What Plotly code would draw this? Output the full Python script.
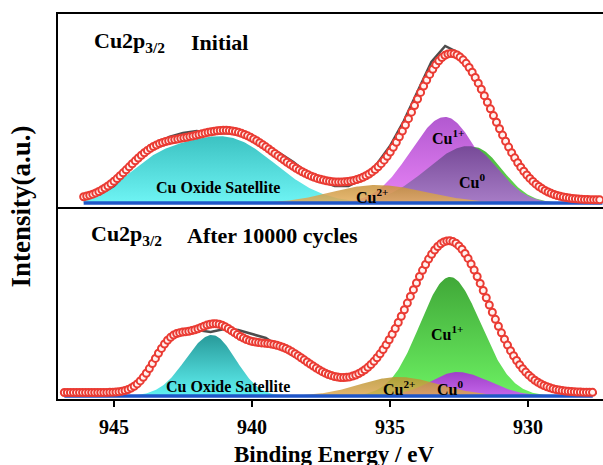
import numpy as np
import plotly.graph_objects as go

# ---------------- data ----------------
# measured spectra, sampled every 0.5 eV
raw_energy_top = [946.0 - 0.5 * i for i in range(38)]
raw_initial = [5, 9, 17, 31, 46, 58, 66, 70, 72, 69, 70, 69, 64, 57, 50, 41, 30, 22, 17, 17,
               24, 38, 57, 82, 112, 141, 157, 150, 130, 102, 72, 45, 26, 15, 9, 5, 4, 3]
raw_energy_bot = [946.5 - 0.5 * i for i in range(39)]
raw_after = [3, 3, 3, 3, 5, 14, 36, 56, 63, 66, 64, 67, 66, 62, 58, 49, 40, 33, 25, 19,
             18, 24, 37, 57, 85, 115, 141, 154, 150, 129, 97, 65, 39, 21, 11, 6, 4, 4, 3]

# fitted envelope: background + peaks (center eV, height, sigma low-BE side, sigma high-BE side)
env_bg_top = 3.0
env_peaks_top = [(932.76, 145, 1.45, 1.35), (935.8, 12, 1.5, 1.5),
                 (940.9, 69, 1.9, 1.9), (943.7, 28, 1.0, 1.0)]
env_span_top = (946.1, 927.3)
env_bg_bot = 3.5
env_peaks_bot = [(932.8, 146, 1.37, 1.37), (934.7, 14, 1.4, 1.4), (939.3, 47, 1.35, 1.35),
                 (941.45, 52, 0.8, 0.8), (942.95, 45, 0.66, 0.66)]
env_span_bot = (946.8, 927.65)

# deconvoluted components, Initial
sat_top = [(940.9, 64, 1.75, 1.75), (943.6, 28, 1.2, 1.2)]
cu1_top = [(933.0, 86, 1.15, 1.25)]
cu_green_top = [(931.95, 56, 1.0, 1.0)]
cu0_top = [(932.15, 57, 1.05, 1.5)]
cu2_top = [(935.5, 18, 1.8, 1.6)]

# deconvoluted components, After 10000 cycles
sat_bot = [(941.45, 61, 0.85, 0.95)]
cu1_bot = [(932.83, 119, 1.12, 1.08)]
cu0_bot = [(932.55, 24, 1.15, 1.0)]
cu2_bot = [(934.7, 19, 1.5, 1.4)]

tick_vals = [945, 940, 935, 930]

# ---------------- helpers ----------------
def peak_sum(e, peaks, bg=0.0):
    e = np.asarray(e, dtype=float)
    out = np.full_like(e, bg)
    for c, h, s_lo, s_hi in peaks:
        s = np.where(e < c, s_lo, s_hi)
        out += h * np.exp(-(e - c) ** 2 / (2 * s ** 2))
    return out

SERIF = "Liberation Serif"
fig = go.Figure()

def add_area(e, peaks, top_color, bottom_color, yaxis, xaxis):
    fig.add_trace(go.Scatter(
        x=e, y=peak_sum(e, peaks), mode="lines", line=dict(width=0),
        fill="tozeroy",
        fillgradient=dict(type="vertical",
                          colorscale=[[0, bottom_color], [1, top_color]]),
        xaxis=xaxis, yaxis=yaxis, hoverinfo="skip", showlegend=False))

def add_panel(xaxis, yaxis, span, areas, raw_e, raw_y, env_peaks, env_bg):
    e = np.linspace(span[0], span[1], 500)
    for peaks, ctop, cbot in areas:
        add_area(e, peaks, ctop, cbot, yaxis, xaxis)
    # background line
    fig.add_trace(go.Scatter(x=[span[0], span[1]], y=[0, 0], mode="lines",
                             line=dict(color="#1f56c8", width=3.5),
                             xaxis=xaxis, yaxis=yaxis, showlegend=False))
    # raw spectrum
    fig.add_trace(go.Scatter(x=raw_e, y=raw_y, mode="lines",
                             line=dict(color="#4d4d4d", width=2.5),
                             xaxis=xaxis, yaxis=yaxis, showlegend=False))
    # fitted envelope as open circles
    ef = np.arange(span[0], span[1] - 0.001, -0.11)
    fig.add_trace(go.Scatter(x=ef, y=peak_sum(ef, env_peaks, env_bg), mode="markers",
                             marker=dict(symbol="circle", size=7, color="#fff2f0",
                                         line=dict(color="#ea3b33", width=2)),
                             xaxis=xaxis, yaxis=yaxis, showlegend=False))

# top panel: Initial
add_panel("x2", "y2", env_span_top, [
    (sat_top, "#3cc2c2", "#6ef4f4"),
    (cu1_top, "#b259d0", "#e883f6"),
    (cu_green_top, "#4cb840", "#66dc52"),
    (cu0_top, "#774a98", "#a77cc6"),
    (cu2_top, "rgba(200,146,58,0.85)", "rgba(228,174,92,0.85)"),
], raw_energy_top, raw_initial, env_peaks_top, env_bg_top)

# bottom panel: After 10000 cycles
add_panel("x", "y", env_span_bot, [
    (sat_bot, "#289a9a", "#60f2f2"),
    (cu1_bot, "#40a838", "#6cf062"),
    (cu0_bot, "#a040c8", "#c466ea"),
    (cu2_bot, "rgba(186,150,50,0.85)", "rgba(222,168,84,0.85)"),
], raw_energy_bot, raw_after, env_peaks_bot, env_bg_bot)

# ---------------- text ----------------
def label(x, y, text, size, yref, xanchor="center"):
    fig.add_annotation(x=x, y=y, xref="x", yref=yref, text=text, showarrow=False,
                       xanchor=xanchor, yanchor="middle",
                       font=dict(family=SERIF, size=size, color="#000000", weight="bold"))

label(945.8, 161, "Cu2p<sub>3/2</sub>", 22, "y2", "left")
label(942.28, 161, "Initial", 22, "y2", "left")
label(945.92, 161, "Cu2p<sub>3/2</sub>", 22, "y", "left")
label(942.44, 161, "After 10000 cycles", 22, "y", "left")

label(941.23, 16, "Cu Oxide Satellite", 16, "y2")
label(935.65, 7, "Cu<sup>2+</sup>", 16, "y2")
label(932.9, 66, "Cu<sup>1+</sup>", 16, "y2")
label(932.03, 22, "Cu<sup>0</sup>", 16, "y2")

label(940.87, 10, "Cu Oxide Satellite", 16, "y")
label(934.67, 8, "Cu<sup>2+</sup>", 16, "y")
label(932.83, 8, "Cu<sup>0</sup>", 16, "y")
label(932.92, 63, "Cu<sup>1+</sup>", 16, "y")

fig.add_annotation(x=-0.068, y=0.5, xref="paper", yref="paper", text="Intensity(a.u.)",
                   textangle=-90, showarrow=False, xanchor="center", yanchor="middle",
                   font=dict(family=SERIF, size=27, color="#000000", weight="bold"))
fig.add_annotation(x=0.506, y=-0.145, xref="paper", yref="paper", text="Binding Energy / eV",
                   showarrow=False, xanchor="center", yanchor="middle",
                   font=dict(family=SERIF, size=23, color="#000000", weight="bold"))

# ---------------- axes ----------------
x_range = [947.03, 927.28]
fig.update_layout(
    width=603, height=465,
    margin=dict(l=58, r=0, t=14, b=66),
    paper_bgcolor="white", plot_bgcolor="white",
    xaxis=dict(range=x_range, anchor="y", domain=[0, 1], showgrid=False, zeroline=False,
               showline=True, linecolor="black", linewidth=2,
               ticks="outside", ticklen=6, tickwidth=2, tickcolor="black",
               tickvals=tick_vals, ticktext=[str(v) for v in tick_vals],
               ticklabelstandoff=3,
               tickfont=dict(family=SERIF, size=20, color="#000000", weight="bold")),
    xaxis2=dict(range=x_range, anchor="y2", matches="x", showgrid=False, zeroline=False,
                showline=True, mirror=True, linecolor="black", linewidth=2,
                ticks="", showticklabels=False),
    yaxis=dict(domain=[0, 0.5], range=[-3, 189.5], showgrid=False, zeroline=False,
               showline=True, linecolor="black", linewidth=2, ticks="",
               showticklabels=False),
    yaxis2=dict(domain=[0.5, 1], range=[-3.5, 189], showgrid=False, zeroline=False,
                showline=True, linecolor="black", linewidth=2, ticks="",
                showticklabels=False),
)

fig.write_html("out.html")
